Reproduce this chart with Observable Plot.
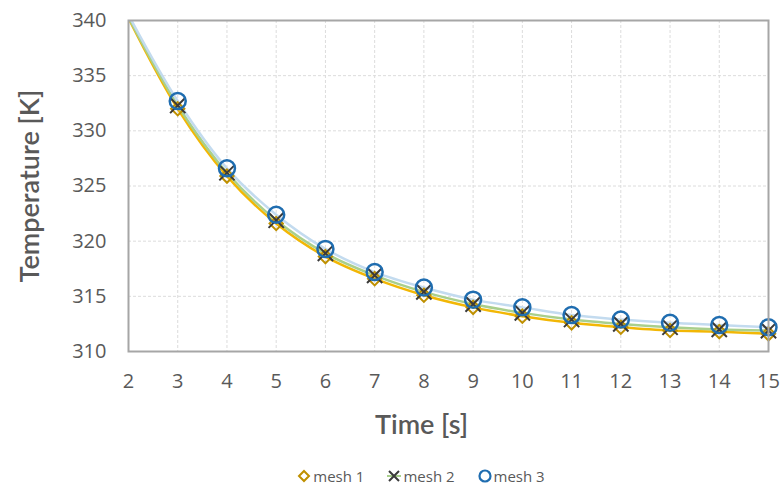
<!DOCTYPE html>
<html><head><meta charset="utf-8">
<script src="https://cdn.jsdelivr.net/npm/d3@7"></script>
<script src="https://cdn.jsdelivr.net/npm/@observablehq/plot@0.6"></script>
<style>
body{margin:0;background:#fff;}
#legend{display:flex;justify-content:center;gap:22px;font-family:"Open Sans",sans-serif;font-size:15px;color:#595959;margin-left:60px;margin-top:11px;}
#legend span{display:flex;align-items:center;gap:1px;}
</style>
</head><body>
<div id="chart"></div>
<div id="legend"></div>
<script>
const time = [2,3,4,5,6,7,8,9,10,11,12,13,14,15];
const mesh1 = [340.2,332.0,325.9,321.6,318.6,316.6,315.1,314.0,313.2,312.6,312.2,311.9,311.8,311.6];
const mesh2 = [340.3,332.3,326.2,321.9,318.9,316.9,315.4,314.3,313.5,312.9,312.5,312.2,312.0,311.9];
const mesh3 = [340.5,332.7,326.6,322.4,319.3,317.2,315.8,314.7,314.0,313.3,312.9,312.6,312.4,312.2];
const xTicks = [2,3,4,5,6,7,8,9,10,11,12,13,14,15];
const yTicks = [310,315,320,325,330,335,340];
const seriesNames = ["mesh 1","mesh 2","mesh 3"];

const rows = (vals) => time.map((t,i)=>({t, v: vals[i]}));
const d1 = rows(mesh1), d2 = rows(mesh2), d3 = rows(mesh3);
const pts = (d) => d.filter(r => r.t >= 3);

const chart = Plot.plot({
  width: 781, height: 455,
  marginLeft: 128, marginRight: 13, marginTop: 20, marginBottom: 104,
  style: {fontFamily: "'Open Sans', sans-serif", fontSize: "20px", color: "#595959", background: "#fff"},
  x: {domain: [2,15], ticks: xTicks},
  y: {domain: [310,340], ticks: yTicks},
  marks: [
    Plot.gridX(xTicks, {stroke: "#dcdcdc", strokeOpacity: 1, strokeDasharray: "3,2"}),
    Plot.gridY(yTicks, {stroke: "#dcdcdc", strokeOpacity: 1, strokeDasharray: "3,2"}),
    Plot.axisX(xTicks, {tickSize: 0, tickPadding: 22, label: null, fontSize: 20}),
    Plot.axisY(yTicks, {tickSize: 0, tickPadding: 22, label: null, fontSize: 20}),
    Plot.text(["Time [s]"], {frameAnchor: "bottom", dy: 82, dx: -27, fontSize: 27, fontWeight: 600, fontFamily: "Lato, sans-serif", fill: "#595959"}),
    Plot.text(["Temperature [K]"], {frameAnchor: "left", textAnchor: "middle", dx: -98, rotate: -90, fontSize: 27, fontWeight: 600, fontFamily: "Lato, sans-serif", fill: "#595959"}),
    Plot.line(d1, {x: "t", y: "v", stroke: "#f2b705", strokeWidth: 2.5, curve: "catmull-rom", clip: true}),
    Plot.line(d2, {x: "t", y: "v", stroke: "#a9cf8c", strokeWidth: 2.5, curve: "catmull-rom", clip: true}),
    Plot.line(d3, {x: "t", y: "v", stroke: "#c3dbef", strokeWidth: 2.5, curve: "catmull-rom", clip: true}),
    Plot.dot(pts(d1), {x: "t", y: "v", symbol: "diamond2", r: 6, stroke: "#bf9000", strokeWidth: 2, fill: "none"}),
    Plot.dot(pts(d2), {x: "t", y: "v", symbol: "times", r: 7, stroke: "#3a3a3a", strokeWidth: 2, fill: "none"}),
    Plot.dot(pts(d3), {x: "t", y: "v", r: 8, stroke: "#1f6db0", strokeWidth: 2.5, fill: "none"}),
    Plot.frame({stroke: "#a6a6a6", strokeWidth: 2})
  ]
});
document.getElementById("chart").append(chart);

const icons = [
  '<svg width="16" height="16" viewBox="-8 -8 16 16"><path d="M0,-5L5,0L0,5L-5,0Z" fill="none" stroke="#bf9000" stroke-width="2"/></svg>',
  '<svg width="16" height="16" viewBox="-8 -8 16 16"><line x1="-7" y1="0" x2="7" y2="0" stroke="#a9cf8c" stroke-width="2"/><path d="M-5,-5L5,5M-5,5L5,-5" stroke="#3a3a3a" stroke-width="2"/></svg>',
  '<svg width="16" height="16" viewBox="-8 -8 16 16"><circle r="5.5" fill="none" stroke="#1f6db0" stroke-width="2.2"/></svg>'
];
const legend = document.getElementById("legend");
seriesNames.forEach((n,i)=>{
  const s = document.createElement("span");
  s.innerHTML = icons[i] + n;
  legend.append(s);
});
</script>
</body></html>
